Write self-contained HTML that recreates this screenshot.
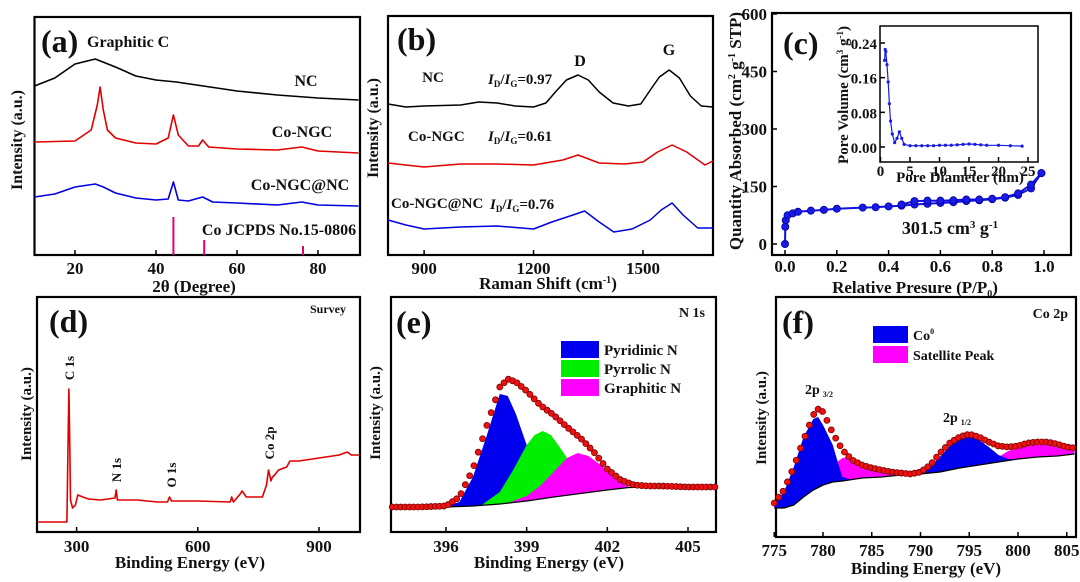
<!DOCTYPE html>
<html><head><meta charset="utf-8"><style>
html,body{margin:0;padding:0;background:#fff;}
svg{display:block;font-family:"Liberation Serif",serif;font-weight:bold;}
</style></head><body>
<svg id="fig" xmlns="http://www.w3.org/2000/svg" width="1080" height="582" viewBox="0 0 1080 582">
<rect x="0" y="0" width="1080" height="582" fill="#fff"/>
<g font-size="17" fill="#111">
<text x="41" y="52" font-size="32">(a)</text>
<text x="87" y="47" font-size="16">Graphitic C</text>
<text x="306" y="86" font-size="16" text-anchor="middle">NC</text>
<text x="302" y="137" font-size="16" text-anchor="middle">Co-NGC</text>
<text x="300" y="190" font-size="16" text-anchor="middle">Co-NGC@NC</text>
<text x="279" y="235" font-size="16" text-anchor="middle">Co JCPDS No.15-0806</text>
<text x="194" y="292" text-anchor="middle">2θ (Degree)</text>
<text transform="translate(22,140) rotate(-90)" text-anchor="middle" font-size="16">Intensity (a.u.)</text>

<text x="397" y="50" font-size="32">(b)</text>
<text x="580" y="66" font-size="16" text-anchor="middle">D</text>
<text x="669" y="55" font-size="16" text-anchor="middle">G</text>
<text x="433" y="82" font-size="15" text-anchor="middle">NC</text>
<text x="488" y="84" font-size="15"><tspan font-style="italic">I</tspan><tspan font-size="9" dy="3">D</tspan><tspan dy="-3">/</tspan><tspan font-style="italic">I</tspan><tspan font-size="9" dy="3">G</tspan><tspan dy="-3">=0.97</tspan></text>
<text x="408" y="141" font-size="15">Co-NGC</text>
<text x="488" y="141" font-size="15"><tspan font-style="italic">I</tspan><tspan font-size="9" dy="3">D</tspan><tspan dy="-3">/</tspan><tspan font-style="italic">I</tspan><tspan font-size="9" dy="3">G</tspan><tspan dy="-3">=0.61</tspan></text>
<text x="391" y="208" font-size="15">Co-NGC@NC</text>
<text x="490" y="209" font-size="15"><tspan font-style="italic">I</tspan><tspan font-size="9" dy="3">D</tspan><tspan dy="-3">/</tspan><tspan font-style="italic">I</tspan><tspan font-size="9" dy="3">G</tspan><tspan dy="-3">=0.76</tspan></text>
<text x="548" y="289" text-anchor="middle">Raman Shift (cm<tspan font-size="10" dy="-6">-1</tspan><tspan dy="6">)</tspan></text>
<text transform="translate(378,128) rotate(-90)" text-anchor="middle" font-size="16">Intensity (a.u.)</text>

<text x="783" y="54" font-size="32">(c)</text>
<text x="915" y="293" text-anchor="middle">Relative Presure (P/P<tspan font-size="10" dy="4">0</tspan><tspan dy="-4">)</tspan></text>
<text transform="translate(741,131) rotate(-90)" text-anchor="middle" font-size="17">Quantity Absorbed (cm<tspan font-size="10" dy="-6">2</tspan><tspan dy="6"> g</tspan><tspan font-size="10" dy="-6">-1</tspan><tspan dy="6"> STP)</tspan></text>
<text x="955" y="99" font-size="18" text-anchor="middle">0.723 nm</text>
<text x="950" y="234" font-size="18" text-anchor="middle">301.5 cm<tspan font-size="11" dy="-6">3</tspan><tspan dy="6"> g</tspan><tspan font-size="11" dy="-6">-1</tspan></text>
<text x="960" y="182" font-size="15" text-anchor="middle">Pore Diameter (nm)</text>
<text transform="translate(848,95) rotate(-90)" text-anchor="middle" font-size="15">Pore Volume (cm<tspan font-size="9" dy="-5">3</tspan><tspan dy="5"> g</tspan><tspan font-size="9" dy="-5">-1</tspan><tspan dy="5">)</tspan></text>

<text x="49" y="332" font-size="32">(d)</text>
<text x="346" y="313" font-size="12" text-anchor="end">Survey</text>
<text transform="translate(74,368) rotate(-90)" text-anchor="middle" font-size="13">C 1s</text>
<text transform="translate(121,470) rotate(-90)" text-anchor="middle" font-size="13">N 1s</text>
<text transform="translate(176,475) rotate(-90)" text-anchor="middle" font-size="13">O 1s</text>
<text transform="translate(274,443) rotate(-90)" text-anchor="middle" font-size="13">Co 2p</text>
<text x="190" y="568" text-anchor="middle">Binding Energy (eV)</text>
<text transform="translate(31,414) rotate(-90)" text-anchor="middle" font-size="15">Intensity (a.u.)</text>

<text x="396" y="333" font-size="32">(e)</text>
<text x="705" y="317" font-size="14" text-anchor="end">N 1s</text>
<text x="549" y="568" text-anchor="middle">Binding Energy (eV)</text>
<text transform="translate(380,413) rotate(-90)" text-anchor="middle" font-size="15">Intensity (a.u.)</text>
<rect x="561" y="341" width="38" height="17" fill="#0000ee"/>
<rect x="561" y="360" width="38" height="17" fill="#00ee00"/>
<rect x="561" y="379" width="38" height="17" fill="#ff00ff"/>
<text x="604" y="355" font-size="15">Pyridinic N</text>
<text x="604" y="374" font-size="15">Pyrrolic N</text>
<text x="604" y="393" font-size="15">Graphitic N</text>

<text x="782" y="333" font-size="32">(f)</text>
<text x="1068" y="318" font-size="14" text-anchor="end">Co 2p</text>
<text x="805" y="394" font-size="14">2p<tspan font-size="8" dx="3" dy="3">3/2</tspan></text>
<text x="943" y="422" font-size="14">2p<tspan font-size="8" dx="3" dy="3">1/2</tspan></text>
<rect x="873" y="326" width="35" height="17" fill="#0000ee"/>
<rect x="873" y="346" width="35" height="17" fill="#ff00ff"/>
<text x="913" y="340" font-size="14">Co<tspan font-size="8" dy="-6">0</tspan></text>
<text x="913" y="360" font-size="14">Satellite Peak</text>
<text x="926" y="574" text-anchor="middle">Binding Energy (eV)</text>
<text transform="translate(766,418) rotate(-90)" text-anchor="middle" font-size="15">Intensity (a.u.)</text>
</g>
</svg>
<script>
const xrdTicks=[20,40,60,80];
const xrdNC=[[10,214],[15,222],[20,236],[25,241],[30,233],[35,224],[40,220],[45,218],[50,215],[55,212],[60,209],[70,205],[80,202],[90,200]];
const xrdCoNGC=[[10,158],[20,159],[24,170],[25.5,195],[26.2,213],[27,190],[28,170],[30,162],[35,157],[40,156],[43,162],[44.3,185],[45.5,165],[48,154],[50.5,154],[51.5,160],[53,153],[60,151],[70,150],[76,153],[80,149],[90,147]];
const xrdCoNGCNC=[[10,103],[15,106],[20,113],[25,116],[27,113],[30,107],[35,102],[40,100],[43,101],[44.3,118],[45.5,100],[48,99],[51.5,103],[54,98],[60,97],[70,95],[76,98],[80,95],[90,94]];
const refPos=[44.3,51.9,76.3];
const refHeight=[83,60,54];
const ramanTicks=[900,1200,1500];
const ramanNC=[[801,196],[850,193],[900,194],[1000,195],[1050,198],[1100,197],[1150,194],[1200,193],[1234,197],[1260,208],[1290,220],[1322,225],[1350,220],[1380,208],[1418,197],[1460,194],[1494,196],[1520,210],[1545,223],[1572,230],[1600,222],[1630,204],[1660,194],[1692,193]];
const ramanCoNGC=[[801,137],[850,135],[900,133],[1000,136],[1100,136],[1200,135],[1280,140],[1322,145],[1380,137],[1450,136],[1500,138],[1540,148],[1580,155],[1620,148],[1670,135],[1692,139]];
const ramanCoNGCNC=[[801,80],[850,75],[900,71],[1000,73],[1100,74],[1200,71],[1250,78],[1300,84],[1340,89],[1380,78],[1420,68],[1470,71],[1520,80],[1550,90],[1580,97],[1610,85],[1650,72],[1692,72]];
const betXTicks=[0,0.2,0.4,0.6,0.8,1.0];
const betYTicks=[0,150,300,450,600];
const adsorption=[[0,0],[0.001,45],[0.003,62],[0.01,75],[0.03,80],[0.05,84],[0.1,87],[0.15,89],[0.2,92],[0.3,95],[0.35,96],[0.4,98],[0.45,100],[0.5,103],[0.55,105],[0.6,107],[0.65,109],[0.7,112],[0.75,114],[0.8,117],[0.85,121],[0.9,128],[0.95,145],[0.99,185]];
const desorption=[[0.99,185],[0.95,155],[0.9,132],[0.85,122],[0.8,118],[0.75,116],[0.7,116],[0.65,114],[0.6,113],[0.55,113],[0.5,112],[0.45,103]];
const psdXTicks=[0,5,10,15,20,25];
const psdYTicks=[0,0.08,0.16,0.24];
const psd=[[0.7,0.20],[0.8,0.225],[0.9,0.22],[1.1,0.19],[1.3,0.15],[1.5,0.10],[1.7,0.06],[2,0.03],[2.4,0.01],[2.8,0.02],[3.2,0.035],[3.6,0.02],[4,0.006],[5,0.003],[6,0.003],[7,0.003],[8,0.003],[9,0.003],[10,0.004],[11,0.004],[12,0.004],[13,0.005],[14,0.006],[15,0.007],[16,0.006],[17,0.005],[18,0.004],[20,0.004],[22,0.003],[24,0.002]];
const surveyTicks=[300,600,900];
const survey=[[205,18],[276,18],[279,100],[281,151],[283,100],[285,40],[290,32],[297,35],[303,45],[315,43],[330,41],[360,40],[395,42],[398,50],[401,40],[450,40],[500,38],[525,38],[530,43],[535,39],[600,39],[680,38],[684,43],[688,38],[705,46],[710,49],[720,43],[760,43],[770,55],[775,70],[778,65],[781,59],[785,63],[790,65],[800,70],[820,73],[828,79],[850,79],[900,82],[950,85],[970,88],[980,85],[1000,85]];
const n1sTicks=[396,399,402,405];
const n1sEnvelope=[[394,25],[395,25],[396,26],[396.5,35],[397,63],[397.5,105],[398,145],[398.3,153],[398.6,150],[399,141],[399.5,127],[400,117],[400.5,105],[401,94],[401.5,80],[402,63],[402.5,52],[403,47],[403.5,46],[404,46],[405,45],[406.1,45]];
const n1sBaseline=[[394,25],[396,25],[397,26],[398,28],[399,31],[400,35],[401,38.5],[402,42],[402.8,44.5],[404,45],[406.1,45]];
const n1sPyridinic=[[396,25.5],[396.5,30],[397,55],[397.5,95],[398,138],[398.3,136],[398.6,118],[399,87],[399.3,62],[399.6,45],[400,36]];
const n1sPyrrolic=[[397.3,26.5],[398,40],[398.5,62],[399,87],[399.3,97],[399.6,101],[399.9,97],[400.2,86],[400.5,74],[400.8,58],[401.2,44],[401.6,40]];
const n1sGraphitic=[[398.3,29],[399,36],[399.5,46],[400,60],[400.5,74],[400.9,79],[401.3,76],[401.8,66],[402.3,54],[402.8,45],[403.2,45]];
const co2pTicks=[775,780,785,790,795,800,805];
const co2pEnvelope=[[775,34],[776,47],[777,70],[778,97],[779,122],[779.6,129],[780,125],[781,104],[782,87],[783,77],[784,72],[785,69],[786,67],[787,65],[788,64],[789,63],[790,65],[791,72],[792,84],[793,94],[794,100],[795,103],[796,100],[797,95],[798,91],[799,90],[800,91],[801,94],[802,95],[803,95],[804,93],[805,90],[805.8,89]];
const co2pBaseline=[[775,29],[776,29],[777,32],[778,40],[779,47],[780,52],[781,55],[782,56],[784,59],[786,60],[788,62],[790,63],[792,65],[794,69],[796,72],[798,75],[800,78],[802,80],[804,81],[805.8,83]];
const co2pBlue1=[[775,33],[776,45],[777,70],[778,100],[779,118],[779.5,120],[780,112],[781,92],[781.6,72],[782,60],[783,57]];
const co2pMag1=[[777,32],[778,42],[779,52],[780,62],[781,72],[782,79],[782.5,80],[783,79],[784,75],[785,70],[786,66],[787,63],[788,62]];
const co2pBlue2=[[789,63],[790,65],[791,70],[792,80],[793,91],[794,98],[795,101],[796,97],[797,90],[798,82],[799,78],[800,78]];
const co2pMag2=[[797,75],[798,80],[799,86],[800,89],[801,91],[802,92],[803,92],[804,90],[805,88],[805.8,87]];

const NS='http://www.w3.org/2000/svg';
const svg=document.getElementById('fig');
function mk(tag,attrs,parent){const e=document.createElementNS(NS,tag);for(const k in attrs)e.setAttribute(k,attrs[k]);(parent||svg).appendChild(e);return e;}
function lin(d0,d1,r0,r1){return v=>r0+(v-d0)/(d1-d0)*(r1-r0);}
function interp(arr,x){if(x<=arr[0][0])return arr[0][1];for(let i=1;i<arr.length;i++){if(x<=arr[i][0]){const a=arr[i-1],b=arr[i];return a[1]+(b[1]-a[1])*(x-a[0])/(b[0]-a[0]);}}return arr[arr.length-1][1];}
function pts(arr,sx,sy){return arr.map(p=>sx(p[0]).toFixed(1)+','+sy(p[1]).toFixed(1)).join(' ');}
function box(x0,y0,x1,y1,name){const r=mk('rect',{x:x0,y:y0,width:x1-x0,height:y1-y0,fill:'none',stroke:'#000','stroke-width':2.2});

return r;}
function xticks(ticks,sx,yb,ly,fs,fmt,name){ticks.forEach(t=>{const l=mk('line',{x1:sx(t),x2:sx(t),y1:yb,y2:yb-5,stroke:'#000','stroke-width':1.5});


const tx=mk('text',{x:sx(t),y:ly,'font-size':fs,'text-anchor':'middle',fill:'#111'});tx.textContent=fmt?fmt(t):t;

});}
function yticks(ticks,sy,xl,lx,fs,fmt,name){ticks.forEach(t=>{const l=mk('line',{x1:xl,x2:xl+5,y1:sy(t),y2:sy(t),stroke:'#000','stroke-width':1.5});


const tx=mk('text',{x:lx,y:sy(t)+6,'font-size':fs,'text-anchor':'end',fill:'#111'});tx.textContent=fmt?fmt(t):t;

});}
function line(arr,sx,sy,color,w,name){const p=mk('polyline',{points:pts(arr,sx,sy),fill:'none',stroke:color,'stroke-width':w,'stroke-linejoin':'round'});

return p;}
function area(top,base,sx,sy,color,name){const xs=top.map(p=>p[0]);const rev=xs.slice().reverse().map(x=>[x,interp(base,x)]);
const p=mk('polygon',{points:pts(top,sx,sy)+' '+pts(rev,sx,sy),fill:color});

return p;}
function circles(arr,sx,sy,step,name){const x0=arr[0][0],x1=arr[arr.length-1][0];const g=mk('g',{});


for(let x=x0;x<=x1+1e-9;x+=step){mk('circle',{cx:sx(x),cy:sy(interp(arr,x)),r:3,fill:'#ee1111',stroke:'#7a0000','stroke-width':0.8},g);}}

{const sx=lin(10,90,34.5,358.5),sy=v=>300-v;
box(34.5,17,360,255,'plot-area-a');
xticks(xrdTicks,sx,255,274,17,null,'x-axis-a');
line(xrdNC,sx,sy,'#000',1.6,'series-nc-xrd');
line(xrdCoNGC,sx,sy,'#e00000',1.6,'series-co-ngc-xrd');
line(xrdCoNGCNC,sx,sy,'#0000e0',1.6,'series-co-ngc-nc-xrd');
refPos.forEach((p,i)=>{const l=mk('line',{x1:sx(p),x2:sx(p),y1:255,y2:sy(refHeight[i]),stroke:'#e0007a','stroke-width':2});

});}
{const sx=lin(801,1692,388,713),sy=v=>300-v;
box(388,16,713,255,'plot-area-b');
xticks(ramanTicks,sx,255,274,17,null,'x-axis-b');
line(ramanNC,sx,sy,'#000',1.5,'series-nc-raman');
line(ramanCoNGC,sx,sy,'#e00000',1.5,'series-co-ngc-raman');
line(ramanCoNGCNC,sx,sy,'#0000e0',1.5,'series-co-ngc-nc-raman');}
{const sx=lin(0,1,785,1044),sy=lin(0,600,244,14);
box(772,13,1071,255,'plot-area-c');
xticks(betXTicks,sx,255,272,17,t=>t.toFixed(1),'x-axis-c');
yticks(betYTicks,sy,772,767,17,null,'y-axis-c');
line(adsorption,sx,sy,'#1010e0',2,'series-adsorption');
line(desorption,sx,sy,'#1010e0',2,'series-desorption');
const g=mk('g',{fill:'#1a1ae6',stroke:'#0000a0','stroke-width':0.8});


adsorption.concat(desorption).forEach(p=>mk('circle',{cx:sx(p[0]),cy:sy(p[1]),r:3.6},g));
const ix=lin(0,25,880.5,1028),iy=lin(0,0.24,147,43);
const r=mk('rect',{x:880,y:26,width:158,height:136,fill:'#fff',stroke:'#000','stroke-width':1.5});


xticks(psdXTicks,ix,162,176,15,null,'inset-x-axis');
yticks(psdYTicks,iy,880,877,15,t=>t.toFixed(2),'inset-y-axis');
line(psd,ix,iy,'#1a1ae6',1.2,'series-pore-distribution');
const g2=mk('g',{fill:'#1a1ae6'});


psd.forEach(p=>mk('circle',{cx:ix(p[0]),cy:iy(p[1]),r:1.6},g2));}
{const sx=lin(300,900,76.6,319),sy=v=>540-v;
box(37,297,360,532,'plot-area-d');
xticks(surveyTicks,sx,532,552,17,null,'x-axis-d');
line(survey,sx,sy,'#e00000',1.6,'series-survey');}
{const sx=lin(396,405,446,688),sy=v=>532-v;
box(391,297,716,532,'plot-area-e');
xticks(n1sTicks,sx,532,552,17,null,'x-axis-e');
area(n1sPyridinic,n1sBaseline,sx,sy,'#0000ee','component-pyridinic-n');
area(n1sPyrrolic,n1sBaseline,sx,sy,'#00ee00','component-pyrrolic-n');
area(n1sGraphitic,n1sBaseline,sx,sy,'#ff00ff','component-graphitic-n');
line(n1sBaseline,sx,sy,'#000',1.3,'n1s-baseline');
circles(n1sEnvelope,sx,sy,0.16,'n1s-fit-envelope');}
{const sx=lin(780,800,823,1018),sy=v=>537-v;
box(776,297,1076,537,'plot-area-f');
xticks(co2pTicks,sx,537,556,17,null,'x-axis-f');
area(co2pMag1,co2pBaseline,sx,sy,'#ff00ff','component-satellite-1');
area(co2pMag2,co2pBaseline,sx,sy,'#ff00ff','component-satellite-2');
area(co2pBlue1,co2pBaseline,sx,sy,'#0000ee','component-co0-2p32');
area(co2pBlue2,co2pBaseline,sx,sy,'#0000ee','component-co0-2p12');
line(co2pBaseline,sx,sy,'#000',1.3,'co2p-baseline');
circles(co2pEnvelope,sx,sy,0.45,'co2p-fit-envelope');}
</script>
</body></html>
